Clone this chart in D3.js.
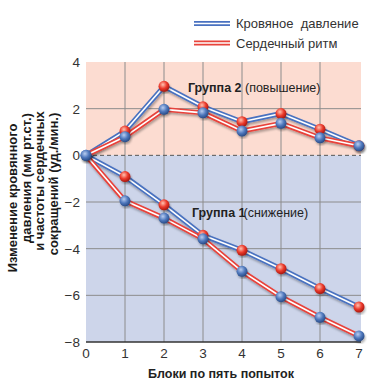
<!DOCTYPE html>
<html>
<head>
<meta charset="utf-8">
<script src="https://cdn.jsdelivr.net/npm/d3@7.9.0/dist/d3.min.js"></script>
<style>
  html, body { margin: 0; padding: 0; background: #fff; }
  svg { display: block; font-family: "Liberation Sans", Arial, sans-serif; }
</style>
</head>
<body>
<svg id="chart" width="375" height="387"></svg>
<script>
// --- data ---
const blocks   = [0, 1, 2, 3, 4, 5, 6, 7];
const bpGroup2 = [0, 1.04, 2.96, 2.08, 1.44, 1.79, 1.12, 0.41];   // blue line, group 2
const hrGroup2 = [0, 0.80, 1.97, 1.82, 1.04, 1.37, 0.75, 0.41];   // red line, group 2
const bpGroup1 = [0, -0.91, -2.12, -3.43, -4.07, -4.86, -5.71, -6.50]; // blue line, group 1
const hrGroup1 = [0, -1.95, -2.69, -3.58, -4.97, -6.06, -6.94, -7.74]; // red line, group 1
const yTicks   = [4, 2, 0, -2, -4, -6, -8];
const yTitle   = ['Изменение кровянного', 'давления (мм рт.ст.)', 'и частоты сердечных', 'сокращений (уд./мин.)'];
const legendItems = [
  { label: 'Кровяное\u00a0 давление', color: '#4a72c0' },
  { label: 'Сердечный ритм',          color: '#e8433b' }
];

const BLUE = '#4a72c0', RED = '#e8433b';

// --- scales ---
const x = d3.scaleLinear().domain([0, 7]).range([86, 359]);
const y = d3.scaleLinear().domain([-8, 4]).range([342, 62]);

const svg = d3.select('#chart');
const defs = svg.append('defs');

// soft shadow under lines and dots
const shadow = defs.append('filter').attr('id', 'shadow')
  .attr('x', '-20%').attr('y', '-20%').attr('width', '140%').attr('height', '140%');
shadow.append('feDropShadow').attr('dx', 1).attr('dy', 2)
  .attr('stdDeviation', 1.2).attr('flood-color', '#000').attr('flood-opacity', 0.3);

// sphere gradients
function sphere(id, hi, mid, lo) {
  const g = defs.append('radialGradient').attr('id', id)
    .attr('cx', '40%').attr('cy', '35%').attr('r', '65%');
  g.append('stop').attr('offset', '0%').attr('stop-color', hi);
  g.append('stop').attr('offset', '55%').attr('stop-color', mid);
  g.append('stop').attr('offset', '100%').attr('stop-color', lo);
}
sphere('redBall', '#ffc2b0', '#ec3a2c', '#a81810');
sphere('blueBall', '#b9cdf0', '#4f78bd', '#284b86');

// --- backgrounds ---
const xl = x(0), xr = x(7) + 2;
svg.append('rect').attr('x', xl).attr('y', y(4)).attr('width', xr - xl)
  .attr('height', y(0) - y(4)).attr('fill', '#fcdcd1');
svg.append('rect').attr('x', xl).attr('y', y(0)).attr('width', xr - xl)
  .attr('height', y(-8) - y(0)).attr('fill', '#cdd5ea');

// --- grid ---
svg.append('g').selectAll('line')
  .data(blocks.filter(d => d > 0 && d < 7))
  .join('line')
  .attr('x1', d => x(d)).attr('x2', d => x(d))
  .attr('y1', y(4)).attr('y2', y(-8))
  .attr('stroke', '#8c8c8c').attr('stroke-width', 1);

svg.append('g').selectAll('line')
  .data(yTicks.filter(d => d !== 4 && d !== 0 && d !== -8))
  .join('line')
  .attr('x1', xl).attr('x2', xr)
  .attr('y1', d => y(d)).attr('y2', d => y(d))
  .attr('stroke', '#8c8c8c').attr('stroke-width', 1);

svg.append('line')
  .attr('x1', xl).attr('x2', xr).attr('y1', y(0)).attr('y2', y(0))
  .attr('stroke', '#555').attr('stroke-width', 1).attr('stroke-dasharray', '4,3');

svg.append('line')
  .attr('x1', xl).attr('x2', xr).attr('y1', y(-8)).attr('y2', y(-8))
  .attr('stroke', '#333').attr('stroke-width', 1.5);

// --- tick labels ---
svg.append('g').selectAll('text')
  .data(yTicks)
  .join('text')
  .attr('x', 80).attr('y', d => y(d) + 5)
  .attr('text-anchor', 'end')
  .attr('font-size', 13.5).attr('fill', '#333')
  .text(d => d < 0 ? '\u2212' + Math.abs(d) : d);

svg.append('g').selectAll('text')
  .data(blocks)
  .join('text')
  .attr('x', d => x(d)).attr('y', 358)
  .attr('text-anchor', 'middle')
  .attr('font-size', 13.5).attr('fill', '#333')
  .text(d => d);

// --- axis titles ---
svg.append('text')
  .attr('x', 221).attr('y', 378)
  .attr('text-anchor', 'middle')
  .attr('font-size', 12.5).attr('font-weight', 'bold').attr('fill', '#222')
  .text('Блоки по пять попыток');

// rotated y title, one text per line
const titleX = [17, 30.5, 44, 57.5];
const titleY = [198, 178, 181, 184];
svg.append('g').selectAll('text')
  .data(yTitle)
  .join('text')
  .attr('transform', (d, i) => `translate(${titleX[i]},${titleY[i]}) rotate(-90)`)
  .attr('text-anchor', 'middle')
  .attr('font-size', 13).attr('font-weight', 'bold').attr('fill', '#1a1a1a')
  .text(d => d);

// --- lines ---
const line = d3.line().x((d, i) => x(blocks[i])).y(d => y(d));

function doubleLine(g, vals, color) {
  g.append('path').attr('d', line(vals)).attr('fill', 'none')
    .attr('stroke', color).attr('stroke-width', 5).attr('stroke-linejoin', 'round')
    .attr('filter', 'url(#shadow)');
  g.append('path').attr('d', line(vals)).attr('fill', 'none')
    .attr('stroke', '#fff').attr('stroke-width', 1.6).attr('stroke-linejoin', 'round');
}

const lines = svg.append('g');
doubleLine(lines, bpGroup1, BLUE);
doubleLine(lines, hrGroup1, RED);
doubleLine(lines, bpGroup2, BLUE);
doubleLine(lines, hrGroup2, RED);

// --- dots: red balls on the blue lines, blue balls on the red lines ---
const dots = svg.append('g');
[bpGroup1, bpGroup2].forEach(vals => {
  dots.append('g').selectAll('circle')
    .data(vals.map((v, i) => ({ b: blocks[i], v })).filter(d => d.b > 0))
    .join('circle')
    .attr('cx', d => x(d.b)).attr('cy', d => y(d.v)).attr('r', 5.5)
    .attr('fill', 'url(#redBall)').attr('filter', 'url(#shadow)');
});
[hrGroup1, hrGroup2].forEach(vals => {
  dots.append('g').selectAll('circle')
    .data(vals.map((v, i) => ({ b: blocks[i], v })))
    .join('circle')
    .attr('cx', d => x(d.b)).attr('cy', d => y(d.v)).attr('r', 5.5)
    .attr('fill', 'url(#blueBall)').attr('filter', 'url(#shadow)');
});

// --- annotations ---
const g2 = svg.append('text').attr('x', 188).attr('y', 92)
  .attr('font-size', 12.5).attr('fill', '#222');
g2.append('tspan').attr('font-weight', 'bold').text('Группа 2');
g2.append('tspan').text(' (повышение)');

const g1 = svg.append('text').attr('x', 192).attr('y', 217)
  .attr('font-size', 12.5).attr('fill', '#222');
g1.append('tspan').attr('font-weight', 'bold').text('Группа 1');
g1.append('tspan').attr('dx', -2).text('(снижение)');

// --- legend ---
const legend = svg.append('g');
legendItems.forEach((item, i) => {
  const ly = 23.5 + i * 19.5;
  legend.append('line').attr('x1', 194).attr('x2', 230).attr('y1', ly).attr('y2', ly)
    .attr('stroke', item.color).attr('stroke-width', 5);
  legend.append('line').attr('x1', 194).attr('x2', 230).attr('y1', ly).attr('y2', ly)
    .attr('stroke', '#fff').attr('stroke-width', 1.6);
  legend.append('text').attr('x', 236).attr('y', ly + 4.5)
    .attr('font-size', 13).attr('fill', '#333')
    .text(item.label);
});
</script>
</body>
</html>
